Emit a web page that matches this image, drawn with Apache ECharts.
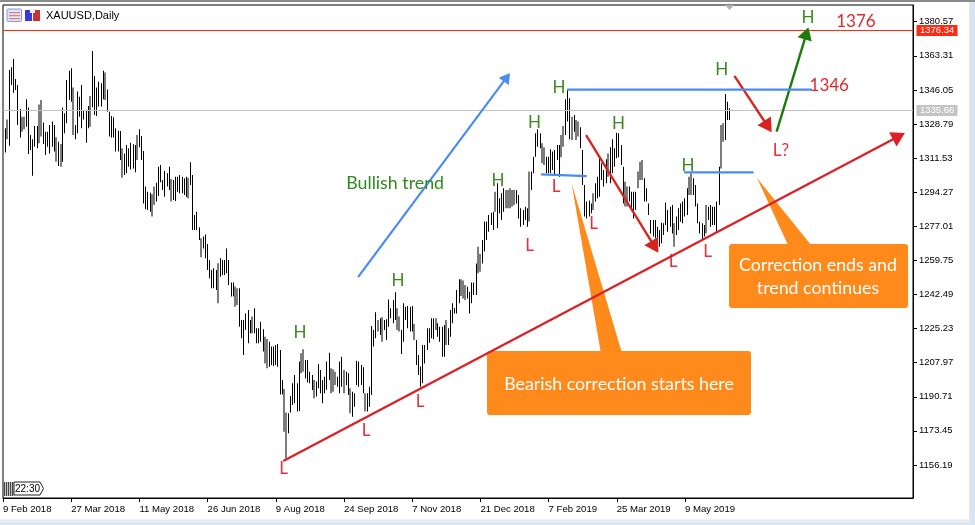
<!DOCTYPE html>
<html><head><meta charset="utf-8">
<style>html,body{margin:0;padding:0;background:#fff}#c{width:975px;height:525px}</style>
<script src="https://cdn.jsdelivr.net/npm/echarts@6/dist/echarts.min.js"></script>
</head><body><div id="c"></div>
<script>
const symbolTitle = 'XAUUSD,Daily';
const dateTicks = ['9 Feb 2018','27 Mar 2018','11 May 2018','26 Jun 2018','9 Aug 2018','24 Sep 2018','7 Nov 2018','21 Dec 2018','7 Feb 2019','25 Mar 2019','9 May 2019'];
const priceTicks = [1380.57,1363.31,1346.05,1328.79,1311.53,1294.27,1277.01,1259.75,1242.49,1225.23,1207.97,1190.71,1173.45,1156.19];
const barsPerDateTick = 32;
const highs = [
1326.6,1331.1,1356.1,1357.5,1361.7,1351.6,1348.5,1336.4,1332.5,1332.5,
1341.3,1337.1,1323.2,1321,1327.8,1327.8,1338.7,1340.9,1329.5,1324.9,
1324.9,1328.3,1330,1328.3,1322.1,1319.8,1318.7,1337.1,1334.2,1351.1,
1355.8,1357,1347.3,1328.3,1345.2,1342.6,1348.5,1335.9,1335.9,1337.9,
1343,1365.7,1353.1,1347.3,1350.2,1349.4,1355.8,1354.9,1346.3,1335,
1332.8,1332.2,1326.6,1325.4,1325.2,1316.5,1313.9,1318.2,1316.5,1319.3,
1318.5,1318.2,1323.2,1326.1,1322.7,1315.1,1297.1,1294.5,1294,1293.2,
1297.1,1299.1,1307.2,1308,1300.4,1305,1303.8,1307.2,1300.9,1300.4,
1302.1,1302.1,1303,1302.1,1301.3,1302.1,1301.6,1309.4,1303,1282.7,
1284.4,1276.5,1270.9,1271.8,1272.9,1268,1260,1254.9,1255.7,1254.9,
1258.3,1260.8,1260,1260,1265.8,1260,1248.5,1248.5,1246.5,1245.6,
1245.6,1229.6,1229.6,1232.9,1234.6,1229.6,1231.3,1235.5,1225.4,1225.4,
1228.7,1224.9,1221.1,1219.9,1218.6,1216.1,1216.1,1216.9,1217.4,1214.4,
1199.2,1194.6,1182.7,1182.3,1191.1,1197.5,1201.7,1197.5,1208.5,1212.7,
1214.7,1209.3,1209.3,1203.4,1201.7,1199.2,1198.4,1207.3,
1204.3,1199.2,1200.9,1208.5,1213,1205.1,1204.6,1203.4,1200.9,1208.5,
1211,1204.3,1203.4,1202.6,1195,1193.3,1192.5,1209,1208.5,1206.8,
1205.6,1192.5,1192.5,1195.8,1226.5,1224.5,1233.5,1229.6,1230.4,1230.9,
1229.6,1229.9,1240,1235.5,1239.7,1243.6,1235.5,1231.3,1224.5,1238,
1236.3,1236.7,1236.3,1236.7,1227.6,1219.5,1211.9,1206,1216.9,1216.9,
1225.4,1225.4,1230.4,1230.4,1230.4,1227.9,1226.2,1226.2,1227,1229.6,
1225.4,1234.6,1238,1235.5,1244.8,1250.2,1250.2,1249.5,1247.3,1246.4,
1243.9,1248.5,1248.5,1258.2,1266.7,1263,1270.1,1279.4,1279.4,1282.7,
1283.9,1284.4,1294.5,1298.8,1291.2,1293.7,1296.2,1295.4,1295.4,1296.2,
1295.4,1295.4,1295.4,1292.8,1286.1,1285.3,1286.9,1286.1,1304.7,1304.7,
1312.2,1324.1,1326.1,1324.1,1319,1317,1312.2,1312.2,1316,1314.8,
1315.6,1318.2,1318.2,1323.2,1327.8,1341.3,1346,1341.8,1332.5,1333.3,
1330.8,1330,1327.1,1315.6,1297.9,1289.5,1290,1288.6,1293.7,1298.8,
1302.1,1311.4,1308.9,1305.5,1310.9,1313.9,1317,1321,1316.5,1324.4,
1324.1,1318.2,1307.2,1299.6,1297.1,1297.1,1294.5,1294.5,1294.5,1304.7,
1309.7,1310.6,1301.3,1296.2,1288.6,1280.2,1280.2,1280.2,1276.8,1275.1,
1278.8,1278.5,1289,1285.3,1286.9,1287.8,1278.5,1281.9,1286.1,1288.6,
1289.5,1291.2,1296.2,1302.1,1303.8,1301.3,1297.9,1288.6,1279.3,1278.5,
1277.7,1287.8,1286.9,1287.8,1286.9,1286.9,1289.5,1307.2,1328.3,1329.1,1344,1340.1,1336.7];
const lows = [
1314.3,1321,1317.8,1348.5,1344.6,1346,1328.3,1321.9,1324.9,1326.1,
1327.4,1313.6,1315.6,1302.6,1317.3,1316.5,1319,1322.4,1318.7,1313.1,
1317.3,1313.9,1317.3,1314.8,1309.7,1307.5,1307.2,1309.7,1324.1,1329.1,
1340.9,1340.1,1323.2,1321,1324.1,1332.5,1326.6,1331.1,1319.3,1326.6,
1327.4,1337.2,1333.3,1332.8,1337.6,1337.6,1341.3,1340.9,1335,1322.4,
1322,1322,1314.8,1314.8,1310.6,1301.6,1303,1303.8,1307.2,1305.8,
1306.3,1304.3,1310.6,1317,1310.6,1288.6,1285.6,1285.3,1284.4,1281.9,
1287.8,1289.5,1292.3,1299.3,1295.4,1292,1297.1,1295.4,1289.5,1290.3,
1289.8,1294.5,1293.7,1293.7,1292.8,1292,1291.2,1297.9,1275.1,1275.1,
1275.1,1270.1,1261.3,1265.8,1260.8,1254.9,1250.7,1245.6,1245.6,1244.8,
1238,1251.5,1252.4,1252.4,1253.2,1247.3,1241.4,1241.4,1236.3,1237.2,
1226.2,1220.3,1211.9,1224.5,1217.8,1222.8,1222.8,1222.8,1217.8,1217.8,
1218.6,1213.6,1207.6,1205.1,1205.9,1206.8,1206.3,1206.8,1205.9,1191.9,
1191.9,1173,1159.6,1172.2,1182.7,1186.6,1187.4,1183.2,1183.5,1202.6,
1203.4,1200,1198,1197.5,1194.1,1189.9,1190.8,1195,
1192.5,1187.4,1192.5,1194.2,1199.2,1192.5,1193.3,1196.7,1195.8,1192.5,
1195.8,1192.5,1196.7,1191.6,1182.3,1180.6,1185.7,1196.7,1195.8,1196.7,
1192.5,1183.2,1183.2,1185.7,1191.6,1216.1,1220.3,1223.7,1222,1218.6,
1224.5,1219.5,1226.2,1230.4,1227.9,1229.6,1224.5,1223.7,1212.4,1218.6,
1229.6,1225.4,1223.7,1223.7,1219.5,1206.8,1201.7,1195.8,1197.5,1207.6,
1214.4,1218.1,1220.3,1219.8,1224.5,1221.1,1218.6,1211,1211,1216.9,
1216.9,1221.1,1227.9,1232.9,1232.9,1238,1241.7,1240.5,1239.7,1240.5,
1232.9,1238,1242.2,1242.2,1253.2,1254,1258.2,1264.2,1270.1,1274.3,
1277.7,1275.1,1284.4,1276,1283.6,1280.2,1284.4,1286.1,1286.1,1286.1,
1286.9,1287.8,1288.6,1281,1276.8,1277.7,1280.2,1276.8,1279.4,1295.4,
1303.8,1312.2,1317.3,1316.5,1308.9,1308,1303.8,1303.8,1303.8,1305.5,
1303,1310.6,1302.1,1311.9,1317.3,1323.2,1330,1321,1320.7,1324.9,
1320.7,1322.4,1316.5,1297.9,1281.9,1281,1281.9,1283.6,1285.3,1289.5,
1291.2,1292,1300.4,1297.1,1298.8,1302.1,1298.8,1303.8,1307.2,1311.4,
1311.9,1308,1288.6,1287,1287,1289.5,1286.1,1281,1285.3,1296.2,
1300.4,1300.4,1289.5,1289.5,1282.7,1273.4,1271.8,1270.9,1270.1,1266.7,
1268.4,1272.6,1277.7,1274.3,1276.8,1273.4,1266.7,1272.6,1275.1,1279.3,
1278.5,1281.9,1282.7,1292.8,1292.8,1292.8,1287,1278.5,1273.4,1270.1,
1271.8,1273.4,1280.2,1276.8,1277.7,1277.7,1274.3,1287.8,1306.3,1319.8,1320.7,1330.8,1330.8];
const greyBars = [2,9,10,17,18,25,27,33,41,48,56,63,70,71,79,87,93,101,109,110,117,123,124,132,133,140,141,146,154,155,156,160,163,170,176,178,185,186,193,203,208,215,216,217,223,224,231,236,237,238,239,240,247,253,254,262,263,267,269,270,277,284,292,293,298,299,300,315,322,323,330,337,338];

const stopLevel = 1376.34, lastPrice = 1335.66;
const redTrend = [[131.5,1158.2,423.2,1324.2]];
const redArrows = [[273.6,1323.2,307.5,1263.6],[343.2,1353.1,360.7,1324.6]];
const greenArrows = [[363,1324.9,377.9,1377.7]];
const blueArrows = [[166.6,1251.3,237.9,1354.6]];
const blueLines = [[264.7,1346.2,379.6,1346.2],[252.5,1303.3,273.9,1302.4],[319.6,1304.3,352.2,1304.3]];
const highMarks = [[139.4,1223],[185.4,1249.3],[232.3,1300.4],[249.4,1329.3],[260.9,1347],[288.8,1328.8],[321.4,1308],[337.2,1356.6],[377.7,1382.7]];
const lowMarks = [[131.7,1154.6],[170.4,1173.4],[195.7,1188.1],[247.1,1267.5],[259.5,1296.9],[277.1,1278.2],[314.4,1259.4],[330.6,1264]];
const lowQuery = [[365,1315.6]];
const levelNotes = [[400.2,1380.6,'1376'],[387.7,1348.5,'1346']];
const trendNote = [[184,1298.9,'Bullish trend']];

const annFont = 'Lato,"Open Sans",sans-serif';
const axisFont = '"Liberation Sans",sans-serif';
const greySet = new Set(greyBars);
const barData = highs.map((h,i)=>[i+1,lows[i],h,greySet.has(i+1)?1:0]);

const barSeries = {type:'custom',silent:true,animation:false,clip:true,z:1,
  encode:{x:0,y:[1,2]},data:barData,
  renderItem(p,api){
    const a=api.coord([api.value(0),api.value(2)]),b=api.coord([api.value(0),api.value(1)]);
    const g=api.value(3)===1,w=g?2:1,x=Math.round(a[0]-w/2);
    return {type:'rect',shape:{x,y:a[1],width:w,height:b[1]-a[1]},style:{fill:g?'#7c7c7c':'#000'}};
  }};
function segSeries(data,color,width,head,z){
  return {type:'custom',silent:true,animation:false,clip:false,z:z||3,encode:{x:[0,2],y:[1,3]},data,
    renderItem(p,api){
      const a=api.coord([api.value(0),api.value(1)]),b=api.coord([api.value(2),api.value(3)]);
      const kids=[];
      const dx=b[0]-a[0],dy=b[1]-a[1],L=Math.hypot(dx,dy),ux=dx/L,uy=dy/L;
      const end=head?[b[0]-ux*head*0.9,b[1]-uy*head*0.9]:b;
      kids.push({type:'line',shape:{x1:a[0],y1:a[1],x2:end[0],y2:end[1]},style:{stroke:color,lineWidth:width}});
      if(head){
        const bx=b[0]-ux*head*1.05,by=b[1]-uy*head*1.05,hw=head*0.62;
        kids.push({type:'polygon',shape:{points:[[b[0],b[1]],[bx-uy*hw,by+ux*hw],[bx+uy*hw,by-ux*hw]]},style:{fill:color}});
      }
      return {type:'group',children:kids};
    }};
}
function textSeries(data,labelFn,color,size){
  return {type:'custom',silent:true,animation:false,clip:false,z:5,encode:{x:0,y:1},data:data.map(d=>[d[0],d[1]]),
    renderItem(p,api){
      const c=api.coord([api.value(0),api.value(1)]);
      return {type:'text',style:{x:c[0],y:c[1],text:labelFn(p.dataIndex),fill:color,font:size+'px '+annFont,align:'center',verticalAlign:'middle'}};
    }};
}
function levelSeries(value,color,txt){
  return {type:'custom',silent:true,animation:false,clip:false,z:2,encode:{y:0},data:[[value]],
    renderItem(p,api){
      const y=Math.round(api.coord([0,value])[1])+0.5,cs=p.coordSys;
      return {type:'group',children:[
        {type:'line',shape:{x1:cs.x,y1:y,x2:cs.x+cs.width,y2:y},style:{stroke:color,lineWidth:1}},
        {type:'rect',shape:{x:cs.x+cs.width+3.5,y:y-5.5,width:41,height:11},style:{fill:color}},
        {type:'text',style:{x:cs.x+cs.width+7,y:y,text:txt,fill:'#fff',font:'9.5px '+axisFont,align:'left',verticalAlign:'middle'}}
      ]};
    }};
}
const C='#ff8a1c';
const graphic=[
 {type:'rect',z:0,shape:{x:0,y:0,width:975,height:2},style:{fill:'#8a8a8a'}},
 {type:'rect',z:0,shape:{x:0,y:522,width:975,height:3},style:{fill:'#d6e5f4'}},
 {type:'rect',z:0,shape:{x:971,y:2,width:4,height:523},style:{fill:'#d6e5f4'}},
 {type:'rect',z:0,shape:{x:969,y:2,width:2,height:520},style:{fill:'#e4e4e4'}},
 {type:'rect',z:0,shape:{x:0,y:519.5,width:970,height:2},style:{fill:'#e8e8e8'}},
 // toolbar glyphs
 {type:'rect',z:20,shape:{x:7,y:9,width:14.5,height:12.5,r:1},style:{fill:'#dfe3f7',stroke:'#8c9ad8',lineWidth:1}},
 {type:'rect',z:21,shape:{x:9,y:12,width:11,height:1.2},style:{fill:'#e08080'}},
 {type:'rect',z:21,shape:{x:9,y:15,width:11,height:1.2},style:{fill:'#e08080'}},
 {type:'rect',z:21,shape:{x:9,y:18,width:11,height:1.2},style:{fill:'#e08080'}},
 {type:'rect',z:20,shape:{x:25,y:10,width:7,height:11},style:{fill:'#3a3ad8'}},
 {type:'rect',z:20,shape:{x:33,y:10,width:7,height:11},style:{fill:'#c83232'}},
 {type:'rect',z:21,shape:{x:30,y:9,width:5,height:4},style:{fill:'#eeeeee'}},
 {type:'text',z:20,style:{x:46,y:16,text:symbolTitle,fill:'#000',font:'11px '+axisFont,align:'left',verticalAlign:'middle'}},
 {type:'polygon',z:20,shape:{points:[[725,5],[734,5],[729.5,10]]},style:{fill:'#b0b0b0'}},
 // countdown tag
 ...[4,6,8,10,12].map(x=>({type:'rect',z:20,shape:{x,y:482,width:1.3,height:14},style:{fill:'#444'}})),
 {type:'polygon',z:20,shape:{points:[[14,482],[40,482],[43.5,488.5],[40,495],[14,495]]},style:{fill:'#fff',stroke:'#222',lineWidth:1}},
 {type:'text',z:21,style:{x:15,y:489,text:'22:30',fill:'#000',font:'10px '+axisFont,align:'left',verticalAlign:'middle'}},
 // callouts
 {type:'polygon',z:30,shape:{points:[[571.5,183],[600.7,352],[621.7,352]]},style:{fill:C}},
 {type:'rect',z:30,shape:{x:487,y:351,width:264,height:64,r:3},style:{fill:C}},
 {type:'text',z:31,style:{x:619,y:384,text:'Bearish correction starts here',fill:'#fff',font:'17.8px '+annFont,align:'center',verticalAlign:'middle'}},
 {type:'polygon',z:30,shape:{points:[[757,178],[788,245],[811,245]]},style:{fill:C}},
 {type:'rect',z:30,shape:{x:729,y:244,width:179,height:64,r:3},style:{fill:C}},
 {type:'text',z:31,style:{x:818,y:265,text:'Correction ends and',fill:'#fff',font:'17.8px '+annFont,align:'center',verticalAlign:'middle'}},
 {type:'text',z:31,style:{x:818,y:288,text:'trend continues',fill:'#fff',font:'17.8px '+annFont,align:'center',verticalAlign:'middle'}}
];
const chart=echarts.init(document.getElementById('c'),null,{renderer:'canvas'});
chart.setOption({
 animation:false,backgroundColor:'#fff',
 grid:{left:3,right:62,top:5,bottom:27,show:true,borderColor:'#000',borderWidth:1,backgroundColor:'#fff'},
 xAxis:{type:'value',min:0,max:427,
   axisLine:{show:true,onZero:false,lineStyle:{color:'#000'}},splitLine:{show:false},
   axisTick:{show:true,length:4,lineStyle:{color:'#000'},customValues:dateTicks.map((d,i)=>i*barsPerDateTick)},
   axisLabel:{customValues:dateTicks.map((d,i)=>i*barsPerDateTick),formatter:v=>dateTicks[Math.round(v/barsPerDateTick)],
     align:'left',margin:6,color:'#000',fontFamily:axisFont,fontSize:9.6,hideOverlap:false}},
 yAxis:{type:'value',position:'right',min:1139.46,max:1389.02,scale:true,
   axisLine:{show:true,onZero:false,lineStyle:{color:'#000'}},splitLine:{show:false},
   axisTick:{show:true,length:4,lineStyle:{color:'#000'},customValues:priceTicks},
   axisLabel:{customValues:priceTicks,formatter:v=>v.toFixed(2),margin:6,color:'#000',fontFamily:axisFont,fontSize:9.5,hideOverlap:false}},
 graphic:{elements:graphic},
 series:[
  levelSeries(lastPrice,'#c4c4c4',lastPrice.toFixed(2)),
  levelSeries(stopLevel,'#ff2a12',stopLevel.toFixed(2)),
  barSeries,
  segSeries(redTrend,'#dc2026',2.3,13,40),
  segSeries(redArrows,'#d8231c',2.3,13),
  segSeries(greenArrows,'#1f7a0c',2.4,12),
  segSeries(blueArrows,'#4a8cf0',2.2,10),
  segSeries(blueLines,'#4a8cf0',2.4,0),
  textSeries(highMarks,()=>'H','#3a8a1e',17),
  textSeries(lowMarks,()=>'L','#e0323c',17),
  textSeries(lowQuery,()=>'L?','#e0323c',17),
  textSeries(levelNotes,i=>levelNotes[i][2],'#e0282c',17),
  textSeries(trendNote,i=>trendNote[i][2],'#2e8b1e',17.8)
 ]
});
</script></body></html>
